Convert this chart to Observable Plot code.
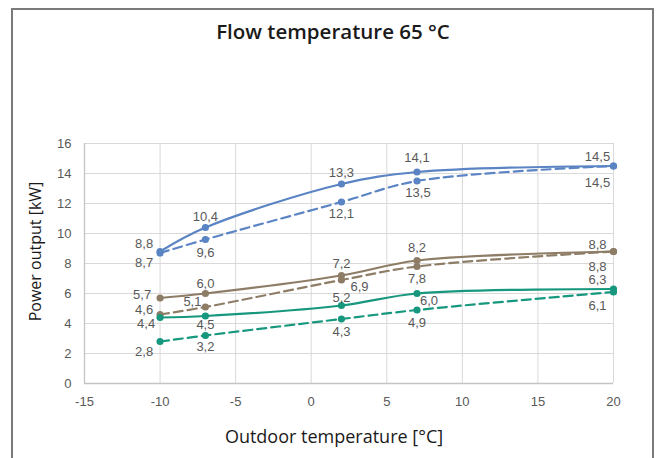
<!DOCTYPE html>
<html><head><meta charset="utf-8">
<script src="https://cdn.jsdelivr.net/npm/d3@7"></script>
<script src="https://cdn.jsdelivr.net/npm/@observablehq/plot@0.6"></script>
<style>
body{margin:0;background:#fff;}
#wrap{position:relative;width:660px;height:458px;overflow:hidden;background:#fff;}
#frame{position:absolute;left:11px;top:8px;width:643px;height:480px;border:2px solid #7a7a7a;box-sizing:border-box;pointer-events:none;}
#title{height:50px;box-sizing:border-box;padding-top:13px;padding-left:6px;text-align:center;font-family:"Open Sans",sans-serif;font-weight:600;font-size:20.5px;color:#1a1a1a;line-height:36px;}
#chart svg{display:block;}
</style></head>
<body>
<div id="wrap">
  <div id="frame"></div>
  <div id="title">Flow temperature 65 °C</div>
  <div id="chart"></div>
</div>
<script>
// ---- data ----
const temps = [-10, -7, 2, 7, 20];
const blueSolid   = [8.8, 10.4, 13.3, 14.1, 14.5];
const blueDashed  = [8.7, 9.6, 12.1, 13.5, 14.5];
const brownSolid  = [5.7, 6.0, 7.2, 8.2, 8.8];
const brownDashed = [4.6, 5.1, 6.9, 7.8, 8.8];
const greenSolid  = [4.4, 4.5, 5.2, 6.0, 6.3];
const greenDashed = [2.8, 3.2, 4.3, 4.9, 6.1];
const xTicks = [-15, -10, -5, 0, 5, 10, 15, 20];
const yTicks = [0, 2, 4, 6, 8, 10, 12, 14, 16];

// ---- styling / label placement (pixel offsets from each point) ----
const seriesDefs = [
  {name: "blue solid",   values: blueSolid,   color: "#5b84c4", dash: null,
   off: [[-16,-8],[0,-11],[0,-11],[0,-14],[-16,-9]]},
  {name: "blue dashed",  values: blueDashed,  color: "#5b84c4", dash: "9,5",
   off: [[-16,10],[0,13],[0,12],[1,12],[-16,17]]},
  {name: "brown solid",  values: brownSolid,  color: "#8e7d66", dash: null,
   off: [[-18,-3],[0,-10],[0,-12],[0,-13],[-16,-7]]},
  {name: "brown dashed", values: brownDashed, color: "#8e7d66", dash: "9,5",
   off: [[-16,-5],[-13,-5],[18,7],[0,12],[-16,15]]},
  {name: "green solid",  values: greenSolid,  color: "#17987e", dash: null,
   off: [[-14,6],[0,9],[0,-8],[12,7],[-16,-9]]},
  {name: "green dashed", values: greenDashed, color: "#17987e", dash: "9,5",
   off: [[-16,10],[0,11],[0,13],[0,13],[-16,14]]}
];

const fmt = v => v.toFixed(1).replace(".", ",");

const marks = [
  Plot.gridX(xTicks, {stroke: "#d9d9d9", strokeOpacity: 1, strokeWidth: 1}),
  Plot.gridY(yTicks, {stroke: "#d9d9d9", strokeOpacity: 1, strokeWidth: 1}),
  Plot.ruleY([0], {stroke: "#c4c4c4", strokeWidth: 1.3}),
  Plot.ruleX([-15], {stroke: "#c4c4c4", strokeWidth: 1.3}),
  Plot.axisX(xTicks, {tickSize: 0, tickPadding: 13, label: null, tickFormat: d => String(d), fill: "#595959", fontSize: 13}),
  Plot.axisY(yTicks, {tickSize: 0, tickPadding: 13, label: null, tickFormat: d => String(d), fill: "#595959", fontSize: 13}),
  Plot.text(["Outdoor temperature [°C]"], {frameAnchor: "bottom", dx: -15, dy: 59, fontSize: 18, fill: "#1a1a1a", fontFamily: "Open Sans, sans-serif"}),
  Plot.text(["Power output [kW]"], {frameAnchor: "left", textAnchor: "middle", dx: -49, dy: -12, rotate: -90, fontSize: 16, fill: "#1a1a1a", fontFamily: "Open Sans, sans-serif"})
];

for (const s of seriesDefs) {
  const rows = temps.map((t, i) => ({t, v: s.values[i]}));
  marks.push(Plot.line(rows, {x: "t", y: "v", stroke: s.color, strokeWidth: 2.2, curve: "catmull-rom", strokeDasharray: s.dash ?? undefined}));
}
for (const s of seriesDefs) {
  const rows = temps.map((t, i) => ({t, v: s.values[i]}));
  marks.push(Plot.dot(rows, {x: "t", y: "v", fill: s.color, r: 3.6}));
  rows.forEach((r, i) => {
    marks.push(Plot.text([r], {x: "t", y: "v", text: d => fmt(d.v), dx: s.off[i][0], dy: s.off[i][1], fill: "#595959", fontSize: 13}));
  });
}

const chart = Plot.plot({
  width: 660, height: 408,
  marginTop: 93, marginBottom: 75, marginLeft: 84, marginRight: 47,
  x: {domain: [-15, 20]},
  y: {domain: [0, 16]},
  style: {fontFamily: "Liberation Sans, Arial, sans-serif", fontSize: "13px", background: "transparent", overflow: "visible"},
  marks
});
document.getElementById("chart").appendChild(chart);
</script>
</body></html>
